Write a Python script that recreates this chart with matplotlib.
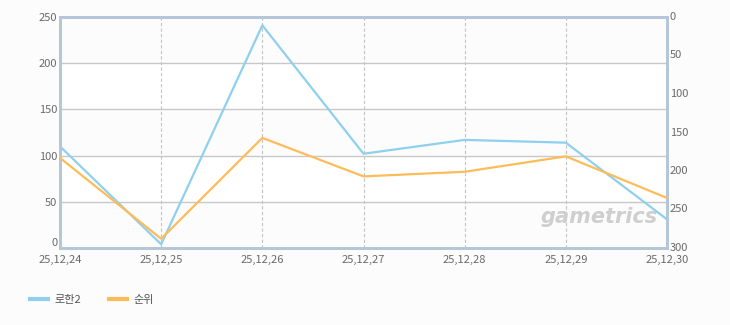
import matplotlib
matplotlib.use("Agg")
import matplotlib.pyplot as plt
from matplotlib.lines import Line2D

plt.rcParams['font.family'] = ['Noto Sans CJK KR', 'DejaVu Sans']

dates = ["25,12,24", "25,12,25", "25,12,26", "25,12,27", "25,12,28", "25,12,29", "25,12,30"]
rohan2 = [110, 4, 241, 102, 117, 114, 31]
rank = [183, 288, 157, 207, 201, 181, 235]
left_ticks = [0, 50, 100, 150, 200, 250]
right_ticks = [0, 50, 100, 150, 200, 250, 300]

blue = "#8fd0ee"
orange = "#fdbc5a"
frame = "#b4c6d8"
tick_color = "#6a6a6a"

fig = plt.figure(figsize=(7.3, 3.25), dpi=100)
fig.patch.set_facecolor("#fcfcfc")
ax = fig.add_axes([60/730, 1-248/325, 607/730, 231/325])
ax.set_facecolor("#fcfcfc")
x = list(range(len(dates)))

# alternating bands
for i in range(len(left_ticks)-1):
    if i % 2 == 1:
        ax.axhspan(left_ticks[i], left_ticks[i+1], color="white", zorder=0)

ax.set_xlim(0, len(dates)-1)
ax.set_ylim(0, 250)
ax.set_yticks(left_ticks)
ax.set_xticks(x)
ax.set_xticklabels(dates)
for xi in x[1:-1]:
    ax.axvline(xi, color="#c4c4c4", lw=0.8, ls=(0, (3, 2)), zorder=1)
for yt in left_ticks[1:-1]:
    ax.axhline(yt, color="#c8c8c8", lw=1.0, zorder=1)

ax.plot(x, rohan2, color=blue, lw=1.6, zorder=3, solid_joinstyle="round")

ax2 = ax.twinx()
ax2.set_ylim(300, 0)
ax2.set_yticks(right_ticks)
ax2.plot(x, rank, color=orange, lw=1.6, zorder=3, solid_joinstyle="round")

for a in (ax, ax2):
    for s in a.spines.values():
        s.set_color(frame)
        s.set_linewidth(2)
    a.tick_params(length=0, labelsize=8, colors=tick_color, pad=2)

ax.tick_params(axis='x', pad=5)
ylabels = ax.get_yticklabels()
ylabels[0].set_verticalalignment('bottom')
for lbl in ax2.get_yticklabels():
    lbl.set_verticalalignment('center')

# watermark
ax.text(0.985, 0.09, "gametrics", transform=ax.transAxes, ha="right", va="bottom",
        fontsize=15, fontweight="bold", fontstyle="italic", color="#cfcfcf", zorder=2,
        family=["DejaVu Sans"])

# legend
handles = [Line2D([0], [0], color=blue, lw=3), Line2D([0], [0], color=orange, lw=3)]
fig.legend(handles, ["로한2", "순위"], loc="center left", bbox_to_anchor=(20/730, 1-300/325),
           ncol=2, frameon=False, fontsize=8, handlelength=1.6, handletextpad=0.6,
           columnspacing=2.5, labelcolor="#555555")

fig.savefig("out.png", dpi=100, facecolor=fig.get_facecolor())
